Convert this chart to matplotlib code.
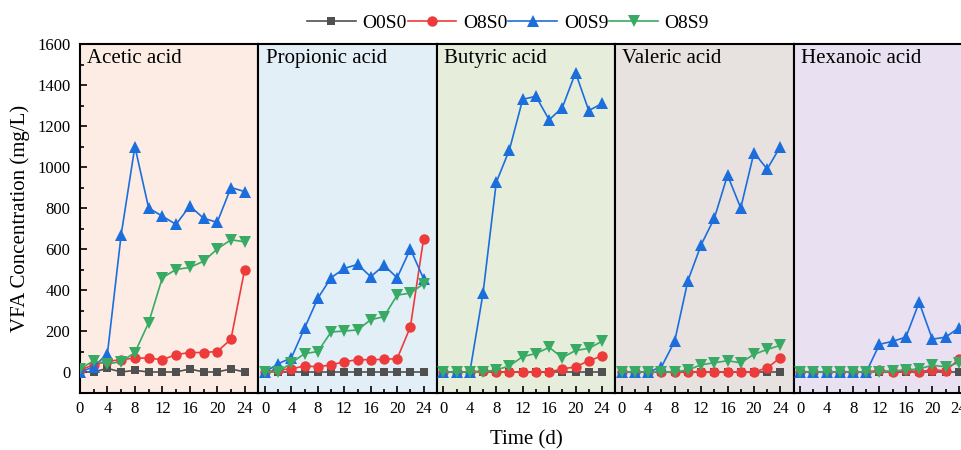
import matplotlib
matplotlib.use("Agg")
import matplotlib.pyplot as plt
from matplotlib.ticker import MultipleLocator
from matplotlib.lines import Line2D

plt.rcParams["font.family"] = ["Liberation Serif", "DejaVu Serif"]

# Sampling days
days = [0, 2, 4, 6, 8, 10, 12, 14, 16, 18, 20, 22, 24]

acids = ["Acetic acid", "Propionic acid", "Butyric acid", "Valeric acid", "Hexanoic acid"]
series_names = ["O0S0", "O8S0", "O0S9", "O8S9"]

# VFA concentrations (mg/L) per acid, per treatment
acetic_O0S0 = [0, 0, 18, 0, 8, 0, 0, 0, 15, 0, 0, 15, 0]
acetic_O8S0 = [10, 35, 52, 60, 68, 68, 60, 85, 95, 95, 100, 160, 500]
acetic_O0S9 = [0, 25, 90, 670, 1100, 800, 760, 720, 810, 750, 730, 900, 880]
acetic_O8S9 = [15, 55, 40, 50, 95, 240, 460, 500, 510, 540, 600, 645, 635]

propionic_O0S0 = [0, 0, 0, 0, 0, 0, 0, 0, 0, 0, 0, 0, 0]
propionic_O8S0 = [0, 10, 15, 30, 25, 35, 50, 60, 60, 62, 65, 220, 650]
propionic_O0S9 = [0, 40, 70, 215, 360, 460, 505, 525, 465, 520, 460, 600, 455]
propionic_O8S9 = [0, 0, 45, 90, 100, 195, 200, 205, 255, 270, 375, 385, 430]

butyric_O0S0 = [0, 0, 0, 0, 0, 0, 0, 0, 0, 0, 0, 0, 0]
butyric_O8S0 = [0, 0, 0, 5, 0, 0, 0, 0, 0, 15, 25, 55, 78]
butyric_O0S9 = [0, 0, 0, 385, 925, 1085, 1330, 1345, 1230, 1290, 1460, 1275, 1310]
butyric_O8S9 = [0, 0, 0, 0, 10, 30, 75, 90, 120, 70, 105, 115, 150]

valeric_O0S0 = [0, 0, 0, 0, 0, 0, 0, 0, 0, 0, 0, 0, 0]
valeric_O8S0 = [0, 0, 0, 0, 0, 0, 0, 0, 0, 0, 0, 20, 70]
valeric_O0S9 = [0, 0, 0, 25, 150, 445, 620, 750, 960, 800, 1070, 990, 1100]
valeric_O8S9 = [0, 0, 0, 0, 0, 10, 35, 45, 55, 45, 86, 110, 130]

hexanoic_O0S0 = [0, 0, 0, 0, 0, 0, 0, 0, 0, 0, 0, 0, 0]
hexanoic_O8S0 = [0, 0, 0, 0, 0, 0, 8, 0, 10, 0, 12, 5, 62]
hexanoic_O0S9 = [0, 0, 0, 0, 0, 0, 135, 150, 170, 340, 160, 170, 215]
hexanoic_O8S9 = [0, 0, 0, 0, 0, 0, 0, 5, 10, 15, 33, 25, 45]

data = [
    [acetic_O0S0, acetic_O8S0, acetic_O0S9, acetic_O8S9],
    [propionic_O0S0, propionic_O8S0, propionic_O0S9, propionic_O8S9],
    [butyric_O0S0, butyric_O8S0, butyric_O0S9, butyric_O8S9],
    [valeric_O0S0, valeric_O8S0, valeric_O0S9, valeric_O8S9],
    [hexanoic_O0S0, hexanoic_O8S0, hexanoic_O0S9, hexanoic_O8S9],
]

colors = ["#505050", "#ed3b3b", "#1c6edc", "#38aa64"]
markers = ["s", "o", "^", "v"]
msizes = [6.3, 7.5, 8.5, 8.5]
panel_bg = ["#fcece4", "#e3eff6", "#e6eedb", "#e7e2df", "#e9e1f1"]

W, H = 961, 450
fig = plt.figure(figsize=(W / 100, H / 100), dpi=100)

left0 = 80.0
pw = 178.4
top_px, bot_px = 44.0, 392.5

for i, acid in enumerate(acids):
    ax = fig.add_axes([(left0 + i * pw) / W, 1 - bot_px / H, pw / W, (bot_px - top_px) / H])
    ax.set_facecolor(panel_bg[i])
    for j in range(4):
        ax.plot(days, data[i][j], color=colors[j], marker=markers[j], ms=msizes[j],
                lw=1.2, mew=0, zorder=2 + j)
    ax.set_xlim(0 if i == 0 else -1, 26)
    ax.set_ylim(-100, 1600)
    ax.xaxis.set_major_locator(MultipleLocator(4))
    ax.xaxis.set_minor_locator(MultipleLocator(2))
    ax.yaxis.set_major_locator(MultipleLocator(200))
    ax.yaxis.set_minor_locator(MultipleLocator(100))
    ax.tick_params(axis="x", which="major", direction="in", length=5, width=1.2,
                   labelsize=12, pad=6)
    ax.tick_params(axis="x", which="minor", direction="in", length=3, width=1.2)
    if i == 0:
        ax.tick_params(axis="y", which="major", direction="in", length=5, width=1.2,
                       labelsize=12, pad=7)
        ax.tick_params(axis="y", which="minor", direction="in", length=3, width=1.2)
    else:
        ax.tick_params(axis="y", which="both", left=False, labelleft=False)
    for sp in ax.spines.values():
        sp.set_linewidth(1.5)
        sp.set_color("black")
    ax.text(0.04, 0.985, acid, transform=ax.transAxes, ha="left", va="top", fontsize=15)

handles = [Line2D([], [], color=colors[j], marker=markers[j], ms=msizes[j], lw=1.2, mew=0)
           for j in range(4)]
fig.legend(handles, series_names, loc="center", bbox_to_anchor=(508 / W, 1 - 23 / H),
           ncol=4, frameon=False, fontsize=14, handlelength=2.5, handletextpad=0.35,
           columnspacing=0.05, borderaxespad=0)

fig.text(20 / W, 1 - 218 / H, "VFA Concentration (mg/L)", rotation=90,
         ha="center", va="center", fontsize=15)
fig.text(526 / W, 1 - 440 / H, "Time (d)", ha="center", va="center", fontsize=15)

fig.savefig("out.png", dpi=100)
